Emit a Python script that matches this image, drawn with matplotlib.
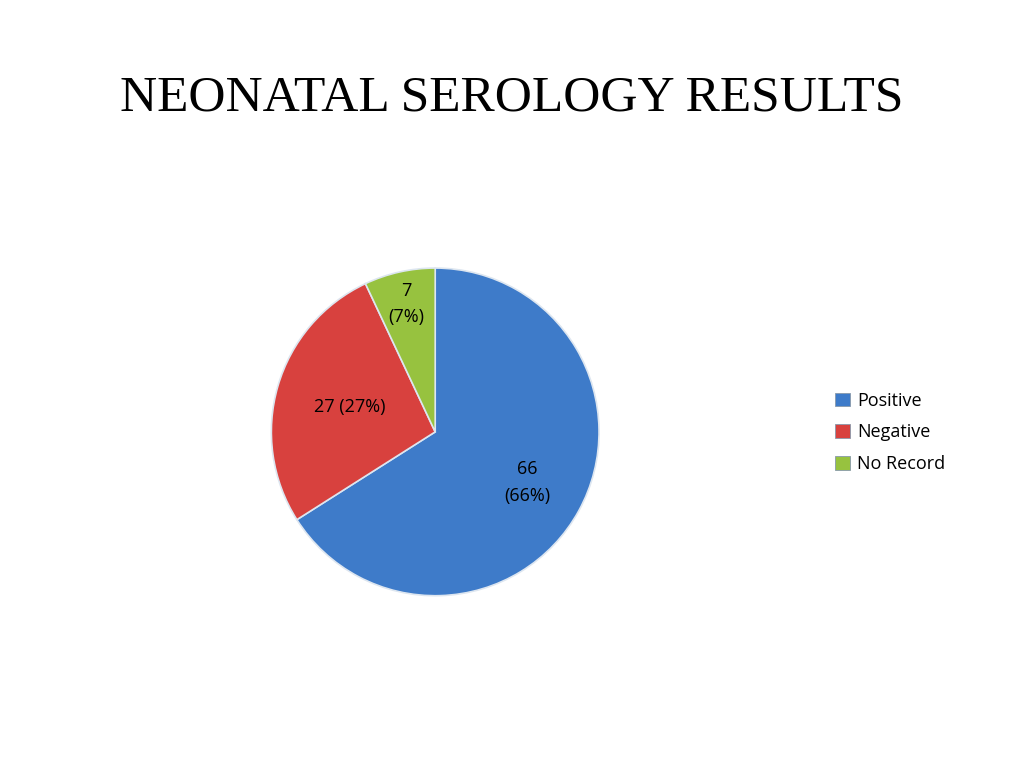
import matplotlib
matplotlib.use("Agg")
import matplotlib.pyplot as plt
import numpy as np
from matplotlib.patches import Patch

categories = ["Positive", "Negative", "No Record"]
values = [66, 27, 7]
colors = ["#3E7BC9", "#D8413E", "#97C23F"]
label_r = [0.64, 0.54, 0.80]

fig = plt.figure(figsize=(10.24, 7.68), dpi=100)
fig.text(0.5, 0.872, "NEONATAL SEROLOGY RESULTS", ha="center", va="center",
         family="Liberation Serif", fontsize=37)

ax = fig.add_axes([0.225, 0.171, 0.4, 0.5333])
wedges, _ = ax.pie(values, colors=colors, startangle=90, counterclock=False,
                   wedgeprops=dict(edgecolor="#DDE6F0", linewidth=1.2))
ax.set_aspect("equal")
labels = ["66\n(66%)", "27 (27%)", "7\n(7%)"]
for w, lab, r in zip(wedges, labels, label_r):
    ang = np.deg2rad((w.theta1 + w.theta2) / 2)
    ax.text(r * np.cos(ang), r * np.sin(ang), lab, ha="center", va="center",
            fontsize=13, family="Open Sans", linespacing=1.6)

handles = [Patch(facecolor=c, edgecolor="#8899AA", linewidth=0.6) for c in colors]
fig.legend(handles, categories, loc="center left", bbox_to_anchor=(0.80, 0.437),
           frameon=False, prop=dict(family="Open Sans", size=13),
           handlelength=0.8, handleheight=0.8, handletextpad=0.4, labelspacing=0.75)
fig.savefig("out.png", dpi=100)
